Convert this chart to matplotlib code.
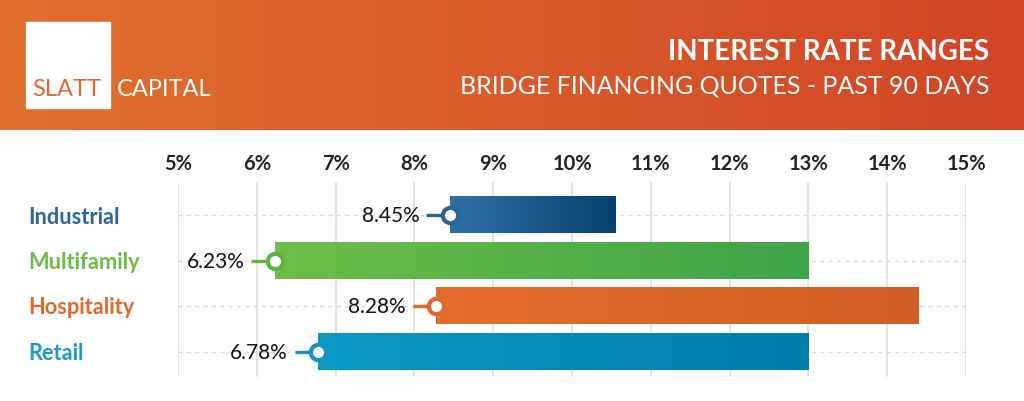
import matplotlib
matplotlib.use("Agg")
import matplotlib.pyplot as plt
import numpy as np
from matplotlib.colors import LinearSegmentedColormap

plt.rcParams["font.family"] = ["Lato", "DejaVu Sans"]

# ── data ───────────────────────────────────────────────────────────────────────
categories = ["Industrial", "Multifamily", "Hospitality", "Retail"]
rate_low = [8.45, 6.23, 8.28, 6.78]
rate_high = [10.55, 13.0, 14.4, 13.0]
tick_values = [5, 6, 7, 8, 9, 10, 11, 12, 13, 14, 15]
tick_labels = [f"{t}%" for t in tick_values]

label_colors = ["#2B6699", "#6BBE45", "#E2692B", "#1A9CC4"]
bar_grad = [("#3071A8", "#06416D"), ("#6DBF48", "#3DA447"),
            ("#E56E2D", "#D05D25"), ("#0A9AC5", "#027DAB")]
marker_colors = ["#2B6699", "#5BB446", "#E2692B", "#1593BE"]

W, H = 1024, 402
fig = plt.figure(figsize=(W / 100, H / 100), dpi=100)

# ── header band ───────────────────────────────────────────────────────────────
bg = fig.add_axes([0, 0, 1, 1])
bg.set_xlim(0, W)
bg.set_ylim(H, 0)
bg.axis("off")
head_cmap = LinearSegmentedColormap.from_list("head", ["#E1702F", "#D14526"])
bg.imshow(np.linspace(0, 1, 256)[None, :], cmap=head_cmap, aspect="auto",
          extent=(0, W, 131, 0), zorder=0)
bg.add_patch(plt.Rectangle((26, 23), 84, 86, color="white", zorder=1))
bg.text(32, 89, "SLATT", color="#E06A2E", fontsize=17, ha="left", va="center", zorder=2)
bg.text(117, 89, "CAPITAL", color="white", fontsize=17, ha="left", va="center", zorder=2)
bg.text(989, 52, "INTEREST RATE RANGES", color="white", fontsize=20, fontweight="bold",
        ha="right", va="center")
bg.text(989, 86, "BRIDGE FINANCING QUOTES - PAST 90 DAYS", color="white", fontsize=18,
        ha="right", va="center")

# ── chart ─────────────────────────────────────────────────────────────────────
ax = fig.add_axes([178 / W, 1 - 378 / H, 788 / W, 195 / H])
ax.set_xlim(5, 15)
ax.set_ylim(3.55, -0.72)
ax.axis("off")

for t in tick_values:
    ax.axvline(t, color="#E2E2E2", linewidth=1.3, zorder=0)
for t, lab in zip(tick_values, tick_labels):
    ax.text(t, -1.13, lab, ha="center", va="center", fontsize=14.5,
            fontweight="bold", color="#222222", clip_on=False)

bar_h = 0.8
row_px = [218, 263, 307, 353]
for i, cat in enumerate(categories):
    ax.plot([5, 15], [i, i], color="#DADADA", linewidth=1.0, linestyle=(0, (3, 3)), zorder=1)
    cmap = LinearSegmentedColormap.from_list(cat, bar_grad[i])
    ax.imshow(np.linspace(0, 1, 256)[None, :], cmap=cmap, aspect="auto",
              extent=(rate_low[i], rate_high[i], i + bar_h / 2, i - bar_h / 2), zorder=2)
    ax.plot([rate_low[i] - 0.3, rate_low[i]], [i, i], color=marker_colors[i],
            linewidth=2.4, zorder=3, solid_capstyle="butt")
    ax.plot(rate_low[i], i, "o", markersize=11, markerfacecolor="white",
            markeredgecolor=marker_colors[i], markeredgewidth=3, zorder=4)
    ax.annotate(f"{rate_low[i]:.2f}%", (rate_low[i], i), xytext=(-22, 0),
                textcoords="offset points", ha="right", va="center",
                fontsize=15, color="#111111", zorder=4)
    fig.text(28 / W, 1 - row_px[i] / H, cat, color=label_colors[i], fontsize=15.7,
             fontweight="bold", ha="left", va="center")

plt.savefig("out.png", dpi=100)
